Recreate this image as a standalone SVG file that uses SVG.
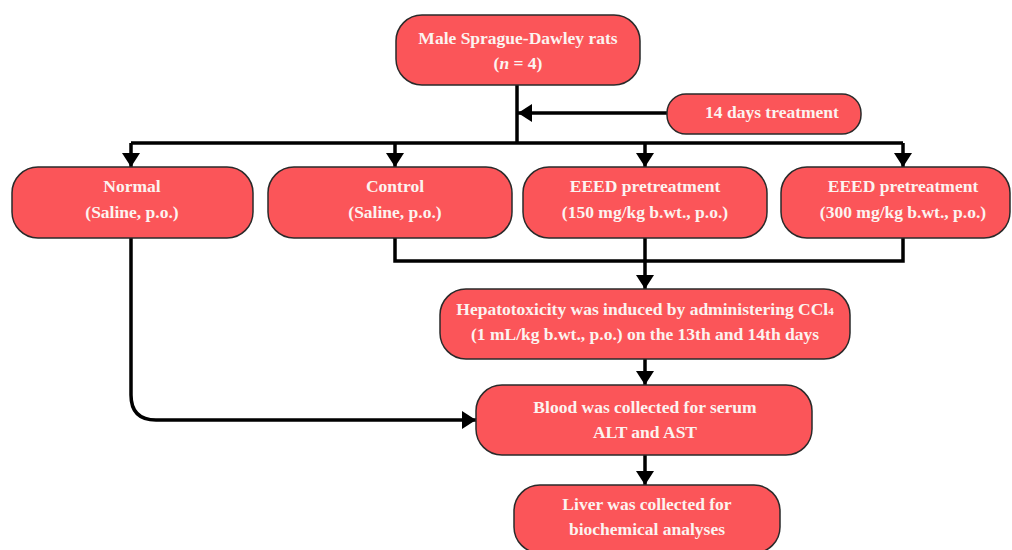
<svg xmlns="http://www.w3.org/2000/svg" width="1012" height="550" viewBox="0 0 1012 550">
<style>
.box{fill:#fb5559;stroke:#2a2a2a;stroke-width:1.5}
.t{font-family:"Liberation Serif","Times New Roman",serif;font-weight:bold;font-size:17.5px;fill:#fbf3f0;text-anchor:middle}
.c{fill:none;stroke:#000;stroke-width:3.5}
</style>
<defs>
<marker id="ah" markerUnits="userSpaceOnUse" markerWidth="20" markerHeight="20" refX="14" refY="10" orient="auto">
<path d="M0,1 L14,10 L0,19 Z" fill="#000"/>
</marker>
</defs>
<rect width="1012" height="550" fill="#fff"/>
<g id="connectors">
<path class="c" d="M517,85 V143"/>
<path class="c" d="M667,113 H518" marker-end="url(#ah)"/>
<path class="c" d="M131,143 H903"/>
<path class="c" d="M131,143 V167" marker-end="url(#ah)"/>
<path class="c" d="M395,143 V167" marker-end="url(#ah)"/>
<path class="c" d="M645,143 V167" marker-end="url(#ah)"/>
<path class="c" d="M903,143 V167" marker-end="url(#ah)"/>
<path class="c" d="M395,238 V261 H903 V238"/>
<path class="c" d="M645,238 V261"/>
<path class="c" d="M645,261 V289" marker-end="url(#ah)"/>
<path class="c" d="M645,359 V385" marker-end="url(#ah)"/>
<path class="c" d="M131,238 V395 Q131,420 156,420 H476" marker-end="url(#ah)"/>
<path class="c" d="M645,455 V485" marker-end="url(#ah)"/>
</g>
<g id="rats">
<rect class="box" x="396" y="15" width="244" height="70" rx="26"/>
<text class="t" x="518" y="44">Male Sprague-Dawley rats</text>
<text class="t" x="518" y="69">(<tspan font-style="italic">n</tspan> = 4)</text>
</g>
<g id="days">
<rect class="box" x="667" y="94" width="194" height="40" rx="19"/>
<text class="t" x="772" y="118">14 days treatment</text>
</g>
<g id="normal">
<rect class="box" x="12" y="167" width="241" height="71" rx="26"/>
<text class="t" x="132" y="192">Normal</text>
<text class="t" x="132" y="218">(Saline, p.o.)</text>
</g>
<g id="control">
<rect class="box" x="268" y="167" width="244" height="71" rx="26"/>
<text class="t" x="395" y="192">Control</text>
<text class="t" x="395" y="218">(Saline, p.o.)</text>
</g>
<g id="eeed150">
<rect class="box" x="523" y="167" width="244" height="71" rx="26"/>
<text class="t" x="645" y="192">EEED pretreatment</text>
<text class="t" x="645" y="218">(150 mg/kg b.wt., p.o.)</text>
</g>
<g id="eeed300">
<rect class="box" x="781" y="167" width="229" height="71" rx="26"/>
<text class="t" x="903" y="192">EEED pretreatment</text>
<text class="t" x="903" y="218">(300 mg/kg b.wt., p.o.)</text>
</g>
<g id="hepato">
<rect class="box" x="440" y="289" width="410" height="70" rx="26"/>
<text class="t" x="645" y="315">Hepatotoxicity was induced by administering CCl<tspan font-size="11">4</tspan></text>
<text class="t" x="645" y="340">(1 mL/kg b.wt., p.o.) on the 13th and 14th days</text>
</g>
<g id="blood">
<rect class="box" x="476" y="385" width="336" height="70" rx="26"/>
<text class="t" x="645" y="413">Blood was collected for serum</text>
<text class="t" x="645" y="438">ALT and AST</text>
</g>
<g id="liver">
<rect class="box" x="514" y="485" width="266" height="68" rx="26"/>
<text class="t" x="647" y="510">Liver was collected for</text>
<text class="t" x="647" y="535">biochemical analyses</text>
</g>
</svg>
